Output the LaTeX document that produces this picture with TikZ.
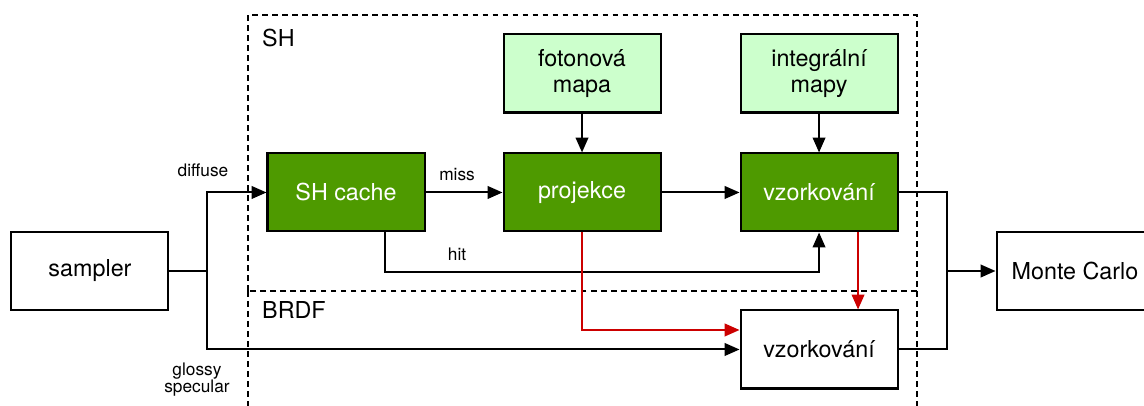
\documentclass[tikz,border=0pt]{standalone}
\usepackage{fontspec}
\setmainfont{TeX Gyre Heros}
\usetikzlibrary{arrows.meta}

\definecolor{shgreen}{HTML}{4E9A00}
\definecolor{mapgreen}{HTML}{CCFFCC}
\definecolor{flowred}{HTML}{CC0000}

\begin{document}
\begin{tikzpicture}[font=\fontsize{11.6}{13.8}\selectfont,
    line width=1pt,
    >={Triangle[length=2.6mm,width=2.2mm]},
    box/.style={draw, minimum width=2.745cm, minimum height=1.364cm, inner sep=0pt, align=center},
    shbox/.style={box, fill=shgreen, text=white},
    mapbox/.style={box, fill=mapgreen},
    tag/.style={font=\fontsize{8.6}{10.5}\selectfont, align=center},
    region/.style={dash pattern=on 1mm off 0.75mm}]
    \useasboundingbox (0,0) rectangle (20,7.098);

    % oblasti
    \draw[region] (4.336,2.011) rectangle (16.032,6.836);
    \draw[region] (4.336,2.011) -- (4.336,-0.5);
    \draw[region] (16.032,2.011) -- (16.032,-0.5);
    \node[anchor=west] (shlabel) at (4.45,6.434) {SH};
    \node[anchor=west] (brdflabel) at (4.45,1.678) {BRDF};

    % uzly
    \node[box] (sampler) at (1.573,2.360) {sampler};
    \node[shbox] (cache) at (6.049,3.733) {SH cache};
    \node[shbox] (proj) at (10.175,3.733) {projekce};
    \node[shbox] (vzsh) at (14.319,3.733) {vzorkování};
    \node[mapbox] (fotmap) at (10.175,5.813) {fotonová\\[-1pt]mapa};
    \node[mapbox] (intmap) at (14.319,5.813) {integrální\\[-1pt]mapy};
    \node[box] (vzbrdf) at (14.319,0.988) {vzorkování};
    \node[box] (mc) at (18.794,2.360) {Monte Carlo};

    % popisky
    \node[tag] (diffuse) at (3.549,4.126) {diffuse};
    \node[tag] (glossy) at (3.444,0.455) {glossy\\[-2pt]specular};
    \node[tag] (miss) at (7.990,4.039) {miss};
    \node[tag] (hit) at (7.990,2.657) {hit};

    % rozdeleni
    \coordinate (split) at (3.619,2.360);
    \draw (sampler) -- (split);
    \draw[->] (split) |- (cache);
    \draw[->] (split) |- (vzbrdf);

    % SH vetev
    \draw[->] (cache) -- (proj);
    \draw[->] (proj) -- (vzsh);
    \draw[->] (fotmap) -- (proj);
    \draw[->] (intmap) -- (vzsh);
    \draw[->] ([xshift=6.82mm]cache.south) |- ([yshift=-6.91mm]vzsh.south) -- (vzsh.south);

    % BRDF vetev
    \draw[flowred,->] (proj.south) |- ([yshift=3.41mm]vzbrdf.west);
    \draw[flowred,->] ([xshift=6.82mm]vzsh.south) -- ([xshift=6.82mm]vzbrdf.north);

    % spojeni
    \coordinate (join) at (16.556,2.360);
    \draw (vzsh) -| (join);
    \draw (vzbrdf) -| (join);
    \draw[->] (join) -- (mc);
\end{tikzpicture}
\end{document}
